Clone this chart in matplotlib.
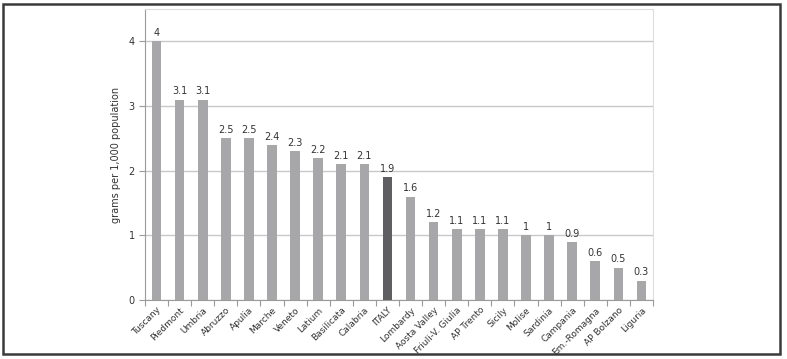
import matplotlib.pyplot as plt
from matplotlib.patches import Rectangle

regions = ['Tuscany', 'Piedmont', 'Umbria', 'Abruzzo', 'Apulia', 'Marche', 'Veneto',
           'Latium', 'Basilicata', 'Calabria', 'ITALY', 'Lombardy', 'Aosta Valley',
           'Friuli-V. Giulia', 'AP Trento', 'Sicily', 'Molise', 'Sardinia', 'Campania',
           'Em.-Romagna', 'AP Bolzano', 'Liguria']
values = [4, 3.1, 3.1, 2.5, 2.5, 2.4, 2.3, 2.2, 2.1, 2.1, 1.9, 1.6, 1.2,
          1.1, 1.1, 1.1, 1, 1, 0.9, 0.6, 0.5, 0.3]
labels = ['4', '3.1', '3.1', '2.5', '2.5', '2.4', '2.3', '2.2', '2.1', '2.1', '1.9', '1.6',
          '1.2', '1.1', '1.1', '1.1', '1', '1', '0.9', '0.6', '0.5', '0.3']

fig = plt.figure(figsize=(7.87, 3.59), dpi=100)
ax = fig.add_axes([145/787, 1 - 300/359, 508/787, 291/359])

colors = ['#5f5f61' if r == 'ITALY' else '#a7a7a9' for r in regions]
x = range(len(regions))
bars = ax.bar(x, values, width=0.42, color=colors, zorder=3)
for b, t in zip(bars, labels):
    ax.text(b.get_x() + b.get_width() / 2, b.get_height() + 0.05, t,
            ha='center', va='bottom', fontsize=7, color='#333333')

ax.set_xlim(-0.5, len(regions) - 0.5)
ax.set_ylim(0, 4.5)
ax.set_yticks([0, 1, 2, 3, 4])
ax.yaxis.grid(True, color='#c8c8c8', linewidth=1)
ax.set_axisbelow(True)
# tick marks sit between the bars, labels under the bars
ax.set_xticks([i - 0.5 for i in range(len(regions) + 1)], minor=False)
ax.set_xticklabels([])
ax.set_xticks(list(x), minor=True)
ax.set_xticklabels(regions, minor=True, rotation=45, ha='right', rotation_mode='anchor',
                   fontsize=6.5, color='#333333')
ax.tick_params(axis='x', which='minor', length=0, pad=4)
ax.tick_params(axis='x', which='major', length=4, color='#9a9a9a')
ax.tick_params(axis='y', length=4, color='#9a9a9a', labelsize=7, labelcolor='#333333')
for s in ['top', 'right']:
    ax.spines[s].set_color('#dddddd')
for s in ['left', 'bottom']:
    ax.spines[s].set_color('#9a9a9a')
ax.set_ylabel('grams per 1,000 population', fontsize=7, color='#333333', labelpad=5)

fig.patches.append(Rectangle((3/787, 1 - 354/359), 777/787, 350/359, transform=fig.transFigure,
                             fill=False, edgecolor='#3a3a3a', linewidth=1.8))

plt.savefig('out.png')
